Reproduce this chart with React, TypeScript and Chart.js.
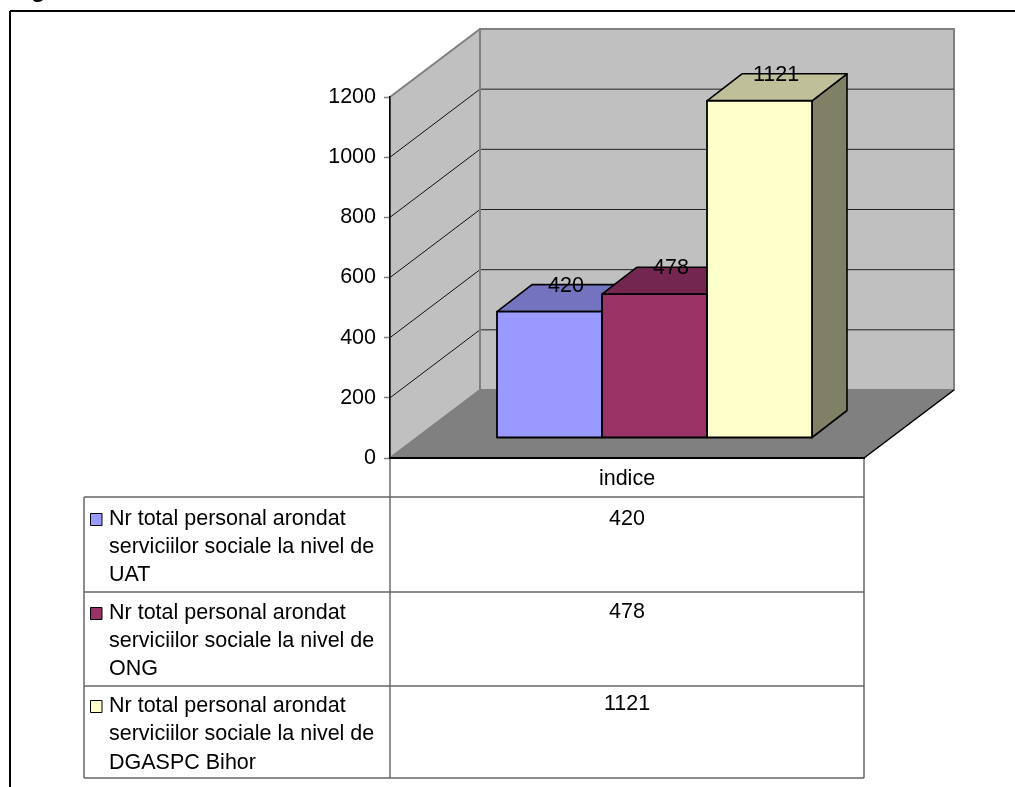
import React, { useEffect, useRef } from "react";
import { Chart, registerables } from "chart.js";

Chart.register(...registerables);

const categories = ["indice"];
const seriesNames = [
  "Nr total personal arondat serviciilor sociale la nivel de UAT",
  "Nr total personal arondat serviciilor sociale la nivel de ONG",
  "Nr total personal arondat serviciilor sociale la nivel de DGASPC Bihor",
];
const legendLines = [
  ["Nr total personal arondat", "serviciilor sociale la nivel de", "UAT"],
  ["Nr total personal arondat", "serviciilor sociale la nivel de", "ONG"],
  ["Nr total personal arondat", "serviciilor sociale la nivel de", "DGASPC Bihor"],
];
const uatValues = [420];
const ongValues = [478];
const dgaspcValues = [1121];
const frontColors = ["#9999FF", "#993366", "#FFFFCC"];
const topColors = ["#7373BF", "#732650", "#BFBF99"];
const sideColors = ["#5C5C99", "#5C1F3D", "#808066"];

const FONT_FAMILY = '"Liberation Sans", Arial, sans-serif';
const FONT_SIZE = 21.5;
const FONT = `${FONT_SIZE}px ${FONT_FAMILY}`;
const DEPTH = { x: 90, y: -68 };
const BAR_OFFSET = { x: 27.5, y: -20 };
const BAR_DEPTH = { x: 35, y: -27 };
const TABLE = { left: 84, mid: 390, right: 864, rows: [497, 592, 686, 778], head: 458 };

const poly = (ctx: CanvasRenderingContext2D, pts: number[][], fill?: string, stroke?: string, lw = 1) => {
  ctx.beginPath();
  pts.forEach((p, i) => (i ? ctx.lineTo(p[0], p[1]) : ctx.moveTo(p[0], p[1])));
  ctx.closePath();
  if (fill) {
    ctx.fillStyle = fill;
    ctx.fill();
  }
  if (stroke) {
    ctx.strokeStyle = stroke;
    ctx.lineWidth = lw;
    ctx.lineJoin = "round";
    ctx.stroke();
  }
};

const line = (ctx: CanvasRenderingContext2D, x1: number, y1: number, x2: number, y2: number, color: string, lw = 1) => {
  ctx.beginPath();
  ctx.moveTo(x1, y1);
  ctx.lineTo(x2, y2);
  ctx.strokeStyle = color;
  ctx.lineWidth = lw;
  ctx.stroke();
};

const scene3d = {
  id: "scene3d",
  beforeDraw(chart: any) {
    const { ctx, chartArea: a, scales } = chart;
    const y = scales.y;
    const L = a.left, R = a.right, B = a.bottom, T = a.top;
    const dx = DEPTH.x, dy = DEPTH.y;
    ctx.save();
    ctx.fillStyle = "#000";
    ctx.font = `bold 24px ${FONT_FAMILY}`;
    ctx.textAlign = "left";
    ctx.textBaseline = "alphabetic";
    ctx.fillText("g", 31, -3);
    line(ctx, 10, 11, 1015, 11, "#000", 2);
    line(ctx, 10, 11, 10, 787, "#000", 2);

    poly(ctx, [[L + dx, T + dy], [R + dx, T + dy], [R + dx, B + dy], [L + dx, B + dy]], "#C0C0C0", "#808080", 2);
    poly(ctx, [[L, T], [L + dx, T + dy], [L + dx, B + dy], [L, B]], "#C0C0C0", "#808080", 2);
    poly(ctx, [[L, B], [L + dx, B + dy], [R + dx, B + dy], [R, B]], "#808080", "#808080", 1);
    line(ctx, R, B, R + dx, B + dy, "#000", 1.5);

    y.ticks.forEach((t: any) => {
      if (t.value === 0 || t.value === 1200) return;
      const p = y.getPixelForValue(t.value);
      line(ctx, L, p, L + dx, p + dy, "#111", 1);
      line(ctx, L + dx, p + dy, R + dx, p + dy, "#222", 1);
    });
    line(ctx, L + dx, T + dy, L + dx, B + dy, "#808080", 2);

    const c = "#666";
    line(ctx, TABLE.mid, TABLE.head, TABLE.mid, TABLE.rows[3], "#222", 1);
    line(ctx, TABLE.right, TABLE.head, TABLE.right, TABLE.rows[3], c, 1.5);
    line(ctx, TABLE.left, TABLE.rows[0], TABLE.left, TABLE.rows[3], c, 1.5);
    TABLE.rows.forEach((r) => line(ctx, TABLE.left, r, TABLE.right, r, c, 1.5));

    ctx.font = FONT;
    ctx.textBaseline = "middle";
    const values = [uatValues[0], ongValues[0], dgaspcValues[0]];
    const cx = (TABLE.mid + TABLE.right) / 2;
    const lineY = [[519, 547, 575], [613, 641, 669], [706, 734, 763]];
    const valueY = [519, 612, 704];
    legendLines.forEach((lines, i) => {
      poly(ctx, [[90.5, lineY[i][0] - 5.5], [102, lineY[i][0] - 5.5], [102, lineY[i][0] + 6.5], [90.5, lineY[i][0] + 6.5]], frontColors[i], "#000", 1);
      ctx.fillStyle = "#000";
      ctx.textAlign = "left";
      lines.forEach((s, j) => ctx.fillText(s, 109, lineY[i][j]));
      ctx.textAlign = "center";
      ctx.fillText(String(values[i]), cx, valueY[i]);
    });
    ctx.restore();
  },
  beforeDatasetsDraw(chart: any) {
    const { ctx } = chart;
    const ox = BAR_OFFSET.x, oy = BAR_OFFSET.y;
    const dx = BAR_DEPTH.x, dy = BAR_DEPTH.y;
    ctx.save();
    chart.data.datasets.forEach((_: any, i: number) => {
      chart.getDatasetMeta(i).data.forEach((el: any) => {
        const p = el.getProps(["x", "y", "base", "width"], true);
        const l = p.x - p.width / 2 + ox, r = p.x + p.width / 2 + ox;
        const t = p.y + oy, b = p.base + oy;
        poly(ctx, [[r, t], [r + dx, t + dy], [r + dx, b + dy], [r, b]], sideColors[i], "#000", 1.6);
        poly(ctx, [[l, t], [l + dx, t + dy], [r + dx, t + dy], [r, t]], topColors[i], "#000", 1.6);
      });
    });
    ctx.restore();
    ctx.save();
    ctx.translate(ox, oy);
  },
  afterDatasetsDraw(chart: any) {
    const { ctx } = chart;
    ctx.restore();
    ctx.save();
    chart.data.datasets.forEach((_: any, i: number) => {
      chart.getDatasetMeta(i).data.forEach((el: any) => {
        const p = el.getProps(["x", "y", "base", "width"], true);
        const l = p.x - p.width / 2 + BAR_OFFSET.x, r = p.x + p.width / 2 + BAR_OFFSET.x;
        const t = p.y + BAR_OFFSET.y, b = p.base + BAR_OFFSET.y;
        poly(ctx, [[l, t], [r, t], [r, b], [l, b]], undefined, "#000", 1.8);
      });
    });
    ctx.font = FONT;
    ctx.fillStyle = "#000";
    ctx.textAlign = "center";
    ctx.textBaseline = "middle";
    chart.data.datasets.forEach((ds: any, i: number) => {
      chart.getDatasetMeta(i).data.forEach((el: any, k: number) => {
        const p = el.getProps(["x", "y"], true);
        ctx.fillText(String(ds.data[k]), p.x + BAR_OFFSET.x + BAR_DEPTH.x / 2 - 1, p.y + BAR_OFFSET.y + BAR_DEPTH.y + 1);
      });
    });
    ctx.restore();
  },
};

export default function App() {
  const ref = useRef<HTMLCanvasElement>(null);
  useEffect(() => {
    const chart = new Chart(ref.current as HTMLCanvasElement, {
      type: "bar",
      data: {
        labels: categories,
        datasets: [uatValues, ongValues, dgaspcValues].map((data, i) => ({
          label: seriesNames[i],
          data,
          backgroundColor: frontColors[i],
          borderWidth: 0,
          barPercentage: 1,
          categoryPercentage: 0.6646,
        })),
      },
      options: {
        animation: false,
        responsive: false,
        devicePixelRatio: 1,
        layout: { padding: { left: 0, right: 151, top: 97, bottom: 0 } },
        plugins: { legend: { display: false }, title: { display: false }, tooltip: { enabled: false } },
        scales: {
          x: {
            afterFit: (s: any) => { s.height = 329; },
            grid: { display: false },
            border: { display: true, color: "#000", width: 2 },
            ticks: { color: "#000", font: { family: FONT_FAMILY, size: FONT_SIZE }, padding: 0, maxRotation: 0 },
          },
          y: {
            min: 0,
            max: 1200,
            afterFit: (s: any) => { s.width = 390; },
            grid: { drawOnChartArea: false, drawTicks: true, tickLength: 6, tickColor: "#808080", tickWidth: 1.5 },
            border: { display: true, color: "#000", width: 1.5 },
            ticks: {
              stepSize: 200,
              color: "#000",
              font: { family: FONT_FAMILY, size: FONT_SIZE },
              padding: 8,
              callback: (v: any) => String(v),
            },
          },
        },
      },
      plugins: [scene3d],
    } as any);
    return () => chart.destroy();
  }, []);
  return (
    <div style={{ position: "absolute", left: 0, top: 0, width: 1015, height: 787, background: "#fff" }}>
      <canvas ref={ref} width={1015} height={787} style={{ display: "block", width: 1015, height: 787 }} />
    </div>
  );
}
